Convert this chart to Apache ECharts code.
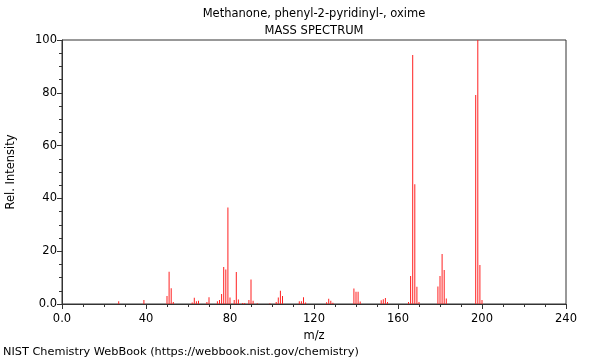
<!DOCTYPE html>
<html>
<head>
<meta charset="utf-8">
<script src="https://cdn.jsdelivr.net/npm/echarts@6/dist/echarts.min.js"></script>
<style>
html,body{margin:0;padding:0;background:#fff;}
#c{width:600px;height:360px;}
</style>
</head>
<body>
<div id="c"></div>
<script>
var titleText = "Methanone, phenyl-2-pyridinyl-, oxime";
var subtitleText = "MASS SPECTRUM";
var footerText = "NIST Chemistry WebBook (https://webbook.nist.gov/chemistry)";
var xAxisName = "m/z";
var yAxisName = "Rel. Intensity";

var mz = [27,39,50,51,52,53,62,63,64,65,69,70,74,75,76,77,78,79,80,82,83,84,86,87,89,90,91,93,99,102,103,104,105,113,114,115,116,126,127,128,129,139,140,141,142,152,153,154,155,165,166,167,168,169,170,179,180,181,182,183,197,198,199,200];
var intensity = [1.0,1.5,3.0,12.2,6.0,0.8,0.6,2.4,1.0,1.2,0.8,2.6,1.0,1.5,3.8,14.0,13.1,36.6,2.5,1.5,12.1,1.7,0.4,0.4,1.5,9.3,1.2,0.3,0.3,0.8,2.5,5.0,3.0,1.0,1.0,2.6,0.6,0.7,2.0,1.2,0.5,5.9,4.6,4.6,0.9,1.4,1.8,2.3,0.8,0.8,10.6,94.3,45.4,6.5,0.8,6.6,10.6,18.9,12.9,2.1,79.2,100,14.8,1.5];

var pairs = mz.map(function(m, i){ return [m, intensity[i]]; });

var chart = echarts.init(document.getElementById('c'), null, {renderer:'canvas'});
var font = "DejaVu Sans";
chart.setOption({
  animation: false,
  backgroundColor: '#fff',
  title: [
    {text: titleText, left: 314, top: 8, padding: 0, textAlign: 'center',
     textStyle: {fontFamily: font, fontSize: 11.5, fontWeight: 'normal', color: '#000'}},
    {text: subtitleText, left: 314, top: 25, padding: 0, textAlign: 'center',
     textStyle: {fontFamily: font, fontSize: 11.5, fontWeight: 'normal', color: '#000'}},
    {text: footerText, left: 3, top: 347, padding: 0,
     textStyle: {fontFamily: font, fontSize: 11.3, fontWeight: 'normal', color: '#000'}}
  ],
  grid: {left: 62, right: 34, top: 40, bottom: 56, show: true, borderColor: '#333', borderWidth: 1,
         backgroundColor: 'transparent', containLabel: false, outerBoundsMode: 'none'},
  xAxis: {
    type: 'value', min: 0, max: 240, interval: 40,
    name: xAxisName, nameLocation: 'middle', nameGap: 24,
    nameTextStyle: {fontFamily: font, fontSize: 11.5, color: '#000'},
    axisLine: {show: true, lineStyle: {color: '#333'}},
    axisTick: {show: true, length: 5, lineStyle: {color: '#333'}},
    minorTick: {show: true, splitNumber: 4, length: 3, lineStyle: {color: '#333'}},
    splitLine: {show: false},
    axisLabel: {fontFamily: font, fontSize: 11.5, color: '#000', margin: 9,
      formatter: function(v){ return v === 0 ? '0.0' : String(v); }}
  },
  yAxis: {
    type: 'value', min: 0, max: 100, interval: 20,
    name: yAxisName, nameLocation: 'middle', nameGap: 45, nameRotate: 90,
    nameTextStyle: {fontFamily: font, fontSize: 11.5, color: '#000'},
    axisLine: {show: true, lineStyle: {color: '#333'}},
    axisTick: {show: true, length: 5, lineStyle: {color: '#333'}},
    minorTick: {show: true, splitNumber: 4, length: 3, lineStyle: {color: '#333'}},
    splitLine: {show: false},
    axisLabel: {fontFamily: font, fontSize: 11.5, color: '#000', margin: 5,
      formatter: function(v){ return v === 0 ? '0.0' : String(v); }}
  },
  series: [{
    type: 'bar',
    data: pairs,
    barWidth: 1,
    itemStyle: {color: '#ff2020'},
    silent: true
  }]
});
</script>
</body>
</html>
